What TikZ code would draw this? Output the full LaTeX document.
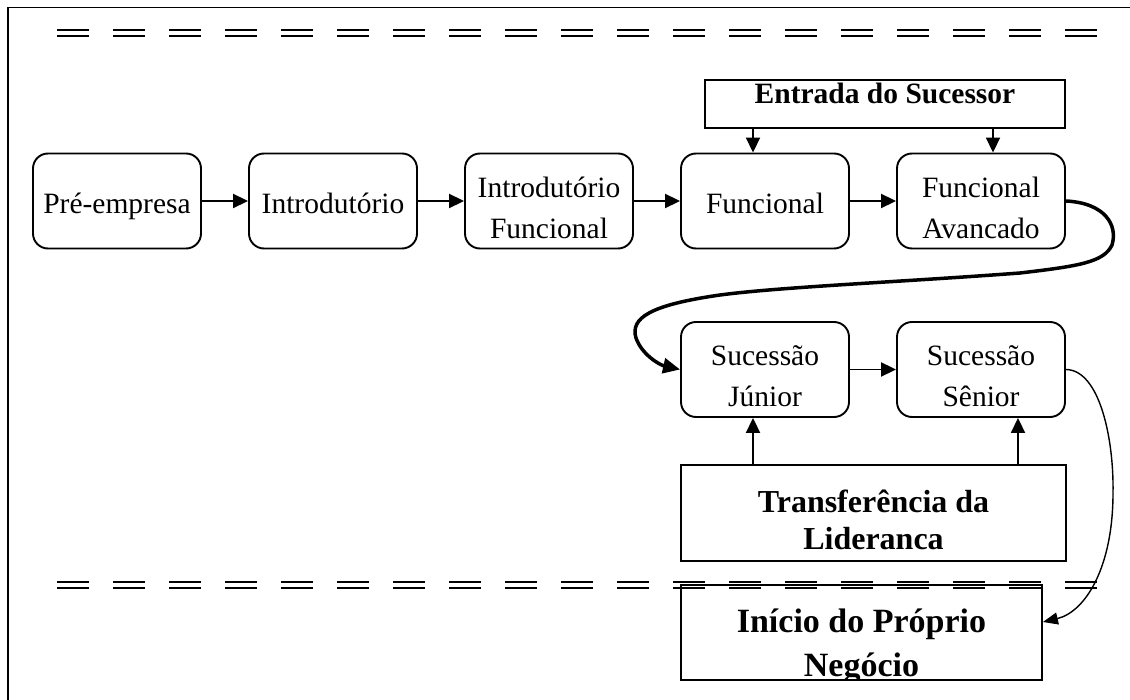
\documentclass[tikz,border=0pt]{standalone}
\usepackage{fontspec}
\setmainfont{Liberation Serif}
\usetikzlibrary{arrows.meta}
\newcommand\tlines[2][0pt]{\raisebox{#1}[\height][\depth]{\begin{tabular}{@{}c@{}}#2\end{tabular}}}
\begin{document}
\begin{tikzpicture}[x=1pt,y=-1pt,
  stage/.style={draw, line width=1.9pt, rounded corners=15pt, minimum width=168pt,
    minimum height=95pt, inner sep=0pt, font=\fontsize{29.5}{41}\selectfont},
  plainbox/.style={draw, line width=1.9pt, inner sep=0pt},
  arr/.style={line width=1.9pt, -{Triangle[length=15pt,width=14pt]}},
  dline/.style={line width=2.2pt, dash pattern=on 32pt off 24pt},
  frameline/.style={line width=1.3pt}
]
\useasboundingbox (0,0) rectangle (1130,700);
\draw[frameline] (8,700) -- (8,7.5) -- (1130,7.5);

% double dashed separators
\draw[dline] (57,30) -- (1097,30);
\draw[dline] (57,35.8) -- (1097,35.8);
\draw[dline] (57,582.3) -- (1097,582.3);
\draw[dline] (57,588.3) -- (1097,588.3);

% stages
\node[stage] (pre) at (117,201) {\tlines[-4pt]{Pré-empresa}};
\node[stage] (intro) at (333,201) {\tlines[-4pt]{Introdutório}};
\node[stage] (intf) at (549,201) {\tlines[-9pt]{Introdutório\\Funcional}};
\node[stage] (fun) at (765,201) {\tlines[-4pt]{Funcional}};
\node[stage] (fav) at (981,201) {\tlines[-9pt]{Funcional\\Avancado}};
\node[stage] (ju) at (765,369.5) {\tlines[-8pt]{Sucessão\\Júnior}};
\node[stage] (se) at (981,369.5) {\tlines[-8pt]{Sucessão\\Sênior}};

\node[plainbox, minimum width=360pt, minimum height=48pt,
  font=\bfseries\fontsize{29.5}{35}\selectfont] (ent) at (885,104)
  {\tlines[7.5pt]{Entrada do Sucessor}};
\node[plainbox, minimum width=385pt, minimum height=96pt,
  font=\bfseries\fontsize{32}{37}\selectfont] (tra) at (873.5,513)
  {\tlines[-10.6pt]{Transferência da\\Lideranca}};
\node[plainbox, minimum width=361pt, minimum height=95pt,
  path picture={\node[inner sep=0pt, font=\bfseries\fontsize{34}{44}\selectfont]
    at (path picture bounding box.center) {\tlines[-13.5pt]{Início do Próprio\\Negócio}};}]
  (ini) at (861.5,632.5) {};

% horizontal flow
\draw[arr] (pre) -- (intro);
\draw[arr] (intro) -- (intf);
\draw[arr] (intf) -- (fun);
\draw[arr] (fun) -- (fav);
\draw[arr] (ju) -- (se);

% Entrada arrows
\coordinate (e1) at ([xshift=-12pt]fun.north);
\coordinate (e2) at ([xshift=12pt]fav.north);
\draw[arr] (e1 |- ent.south) -- (e1);
\draw[arr] (e2 |- ent.south) -- (e2);

% Transferencia arrows
\coordinate (t1) at ([xshift=-12pt]ju.south);
\coordinate (t2) at ([xshift=37pt]se.south);
\draw[arr] (t1 |- tra.north) -- (t1);
\draw[arr] (t2 |- tra.north) -- (t2);

% thick curve
\draw[line width=3.5pt, -{Triangle[length=17pt,width=15pt]}]
  (fav.east) .. controls (1105,203) and (1118,225) .. (1112,245)
  .. controls (1104,262) and (1080,266) .. (1020,273)
  .. controls (900,282) and (780,287) .. (720,295)
  .. controls (650,305) and (630,318) .. (636,338)
  .. controls (642,355) and (660,365) .. (ju.west);

% thin curve
\draw[line width=1.4pt, -{Triangle[length=15pt,width=12pt]}]
  (se.east) .. controls (1100,370) and (1114,440) .. (1113,493)
  .. controls (1113,568) and (1085,612) .. ([yshift=10.5pt]ini.east);
\end{tikzpicture}
\end{document}
